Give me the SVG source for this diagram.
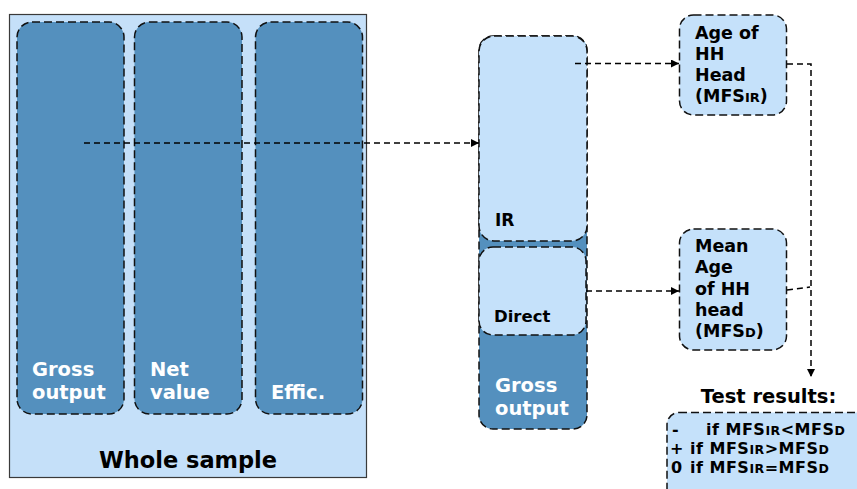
<svg xmlns="http://www.w3.org/2000/svg" width="857" height="489" viewBox="0 0 857 489">
  <style>
    text { font-family: "DejaVu Sans", Verdana, sans-serif; font-weight: bold; }
    .dark { fill: #5490be; stroke: #111; stroke-width: 1.5; stroke-dasharray: 8 4; }
    .light { fill: #c5e1fa; stroke: #111; stroke-width: 1.5; stroke-dasharray: 8 4; }
    .wt { fill: #fff; font-size: 19.5px; }
    .bk { fill: #000; }
    .res { fill: #000; font-size: 16px; letter-spacing: 0.5px; }
    .conn { fill: none; stroke: #000; stroke-width: 1.5; stroke-dasharray: 6 4; }
    .sub { font-size: 13px; }
    .res .sub { font-size: 12.5px; }
  </style>
  <defs>
    <marker id="arrow" viewBox="0 0 8 8" refX="8" refY="4" markerWidth="8" markerHeight="8" markerUnits="userSpaceOnUse" orient="auto">
      <path d="M0,0 L8,4 L0,8 Z" fill="#000"/>
    </marker>
  </defs>

  <!-- whole sample panel -->
  <g id="whole-sample">
    <rect x="9.5" y="14.5" width="357" height="463" fill="#c5e0f9" stroke="#3a3a3a" stroke-width="1.2"/>
    <text x="188" y="468" text-anchor="middle" font-size="22.5" class="bk">Whole sample</text>
  </g>
  <g id="col-gross">
    <rect class="dark" x="17" y="22" width="107" height="392" rx="15"/>
    <text class="wt" x="32" y="376">Gross</text>
    <text class="wt" x="32" y="399">output</text>
  </g>
  <g id="col-net">
    <rect class="dark" x="134.5" y="22" width="107.5" height="392" rx="15"/>
    <text class="wt" x="150" y="376">Net</text>
    <text class="wt" x="150" y="399">value</text>
  </g>
  <g id="col-effic">
    <rect class="dark" x="255.5" y="22" width="107" height="392" rx="15"/>
    <text class="wt" x="271" y="399">Effic.</text>
  </g>

  <!-- split of gross output -->
  <g id="gross-split">
    <rect class="dark" x="479" y="36" width="108" height="393" rx="14"/>
    <text class="wt" x="495" y="392">Gross</text>
    <text class="wt" x="495" y="415">output</text>
  </g>
  <g id="ir">
    <rect class="light" x="479" y="36" width="108" height="205" rx="15"/>
    <text class="bk" x="495" y="226" font-size="17">IR</text>
  </g>
  <g id="direct">
    <rect class="light" x="479" y="247" width="107" height="88" rx="14"/>
    <text class="bk" x="494" y="322" font-size="16.5">Direct</text>
  </g>

  <!-- age boxes -->
  <g id="age-ir">
    <rect class="light" x="679.5" y="15" width="107" height="100" rx="14"/>
    <text class="bk" font-size="17.5"><tspan x="695" y="39">Age of</tspan><tspan x="695" y="60">HH</tspan><tspan x="695" y="81">Head</tspan><tspan x="695" y="102">(MFS<tspan class="sub">IR</tspan>)</tspan></text>
  </g>
  <g id="age-direct">
    <rect class="light" x="679.5" y="229" width="107" height="121" rx="14"/>
    <text class="bk" font-size="17.5"><tspan x="695" y="252">Mean</tspan><tspan x="695" y="273">Age</tspan><tspan x="695" y="294.5">of HH</tspan><tspan x="695" y="316">head</tspan><tspan x="695" y="337">(MFS<tspan class="sub">D</tspan>)</tspan></text>
  </g>

  <!-- test results -->
  <g id="test-results">
    <text class="bk" x="768.5" y="403" text-anchor="middle" font-size="19.5">Test results:</text>
    <rect class="light" x="667" y="412.5" width="210" height="95" rx="12"/>
    <text class="res" x="672" y="435">-</text>
    <text class="res" x="706" y="435">if MFS<tspan class="sub">IR</tspan>&lt;MFS<tspan class="sub">D</tspan></text>
    <text class="res" x="670" y="454">+</text>
    <text class="res" x="690" y="454">if MFS<tspan class="sub">IR</tspan>&gt;MFS<tspan class="sub">D</tspan></text>
    <text class="res" x="671" y="473">0</text>
    <text class="res" x="690" y="473">if MFS<tspan class="sub">IR</tspan>=MFS<tspan class="sub">D</tspan></text>
  </g>

  <!-- connectors -->
  <g id="connectors">
    <path class="conn" d="M84,143 H479" marker-end="url(#arrow)"/>
    <path class="conn" d="M575,63.5 H679" marker-end="url(#arrow)"/>
    <path class="conn" d="M586,291 H679" marker-end="url(#arrow)"/>
    <path class="conn" d="M787,64 H811 V377" marker-end="url(#arrow)"/>
    <path class="conn" d="M787,290 L810,287"/>
  </g>
</svg>
